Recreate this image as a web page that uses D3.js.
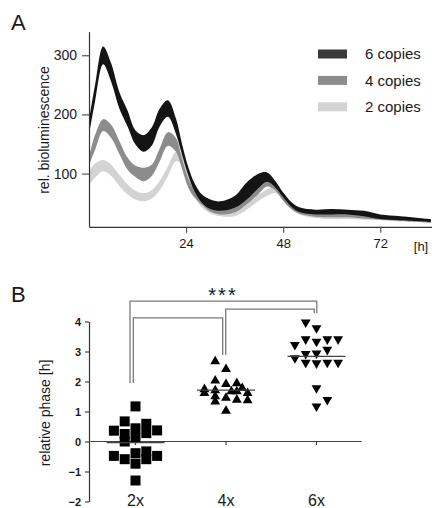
<!DOCTYPE html>
<html><head><meta charset="utf-8">
<script src="https://cdn.jsdelivr.net/npm/d3@7"></script>
<style>body{margin:0;background:#fff;} text{font-family:"Liberation Sans",Arial,sans-serif;fill:#1a1a1a;}</style>
</head><body><svg id="c" width="432" height="508"></svg>
<script>
// ---------- Panel A data ----------
const timeH = [0,1.5,3.5,5.5,7.5,9.5,11.5,13.5,15.5,17.5,19.5,21.5,23,24.5,26,28,30,32.5,36,39,42,44,46,48,50,52,56,60,64,68,72,77,84.5];
const upper6 = [190,250,315,286,238,207,173,165,178,210,224,193,150,112,85,64,56,53,62,85,100,102,88,68,52,43,39,40,39,37,31,28,23];
const lower6 = [165,222,285,255,210,180,149,137,147,180,196,167,132,98,71,50,40,37,42,56,76,86,77,60,44,35,31,31,31,28,23,21,18];
const upper4 = [128,165,192,182,155,127,113,110,115,143,170,160,125,92,72,58,47,42,45,62,83,92,85,66,50,40,35,34,34,32,29,27,22];
const lower4 = [114,140,172,160,133,107,94,87,96,121,147,137,108,77,60,47,36,31,34,48,66,78,72,54,40,32,27,26,26,24,22,20,17];
const upper2 = [104,117,123,115,98,82,71,67,72,88,112,137,133,105,78,55,44,37,39,50,65,73,79,68,52,40,33,31,31,30,28,26,22];
const lower2 = [81,93,104,96,79,65,56,53,58,72,96,121,114,87,62,42,33,28,28,39,54,62,67,57,40,31,25,23,23,22,21,19,17];
const seriesNames = ["6 copies","4 copies","2 copies"];
const xTicksA = [24,48,72];
const yTicksA = [100,200,300];

// ---------- Panel B data ----------
const groups = ["2x","4x","6x"];
const phase2x = [1.17,0.67,0.36,0.25,0.0,0.44,0.59,0.28,0.37,0.12,-0.48,-0.59,-0.39,-0.74,-0.33,-0.59,-0.48,-1.3];
const slot2x  = [0,-1,-2,-1,-1,0,1,1,2,0,-2,-1,0,0,1,1,2,0];
const phase4x = [2.67,2.41,2.03,1.91,1.94,1.74,1.61,1.70,1.50,1.33,1.45,1.67,1.67,1.39,1.78,1.61,1.37,1.02];
const slot4x  = [-1,0,-1,0,1,-2,-2,-1,-1,-1,0,0.5,1,1,1.5,2,2,0];
const phase6x = [3.97,3.78,3.41,3.33,3.41,3.41,3.22,2.92,2.94,3.06,2.78,2.63,2.61,2.63,2.63,1.78,1.17,1.39];
const slot6x  = [-1,0,-1,0,1,2,-2,-1,0,1,-2,-1,0,1,2,0,0,1];
const yTicksB = [-2,-1,0,1,2,3,4];

const svg = d3.select("#c");

// ================= Panel A =================
const xA = d3.scaleLinear().domain([0,84.8]).range([89,432]);
const yA = d3.scaleLinear().domain([10,340]).range([226.8,31.6]);
const colorsA = ["#141414","#8c8c8c","#d3d3d3"];
const legendColors = ["#3a3a3a","#8c8c8c","#d3d3d3"];
const bands = [
  {name:seriesNames[2], up:upper2, lo:lower2, c:colorsA[2]},
  {name:seriesNames[1], up:upper4, lo:lower4, c:colorsA[1]},
  {name:seriesNames[0], up:upper6, lo:lower6, c:colorsA[0]}
];
const area = d3.area().curve(d3.curveCatmullRom.alpha(0.5))
  .x(d=>xA(d.t)).y0(d=>yA(d.lo)).y1(d=>yA(d.up));
const gA = svg.append("g");
bands.forEach(b=>{
  const pts = timeH.map((t,i)=>({t, up:b.up[i], lo:b.lo[i]}));
  gA.append("path").datum(pts).attr("d",area).attr("fill",b.c);
});

const axAx = gA.append("g").attr("transform","translate(0,226.8)")
  .call(d3.axisBottom(xA).tickValues(xTicksA).tickSize(6).tickSizeOuter(0));
const axAy = gA.append("g").attr("transform","translate(89,0)")
  .call(d3.axisLeft(yA).tickValues(yTicksA).tickSize(7).tickSizeOuter(0));
[axAx,axAy].forEach(a=>{
  a.select(".domain").attr("stroke","#333").attr("stroke-width",1.2);
  a.selectAll(".tick line").attr("stroke","#555").attr("stroke-width",1.2);
  a.selectAll("text").attr("font-size",14).attr("fill","#222").style("font-family","'Liberation Sans',Arial,sans-serif");
});
axAx.selectAll("text").attr("font-size",13).attr("dy","0.95em");
axAy.selectAll("text").attr("x",-12);

gA.append("text").attr("x",421).attr("y",251).attr("text-anchor","middle")
  .attr("font-size",13).text("[h]");
gA.append("text").attr("transform","translate(49,130) rotate(-90)")
  .attr("text-anchor","middle").attr("font-size",14).text("rel. bioluminescence");
gA.append("text").attr("x",11).attr("y",30).attr("font-size",22).text("A");

// legend
const lg = gA.append("g");
seriesNames.forEach((n,i)=>{
  const cy = 54 + i*26.4;
  lg.append("rect").attr("x",318).attr("y",cy-4.5).attr("width",29).attr("height",9).attr("fill",legendColors[i]);
  lg.append("text").attr("x",365).attr("y",cy+5.2).attr("font-size",15).text(n);
});

// ================= Panel B =================
const xB = d3.scalePoint().domain(groups).range([135.5,316.5]);
const yB = d3.scaleLinear().domain([-2,4]).range([501.5,321.5]);
const step = xB.step();
const slotW = 10.8;
const gB = svg.append("g");

// y axis
const axBy = gB.append("g").attr("transform","translate(89,0)")
  .call(d3.axisLeft(yB).tickValues(yTicksB).tickSize(4).tickSizeOuter(0).tickFormat(d3.format("d")));
axBy.select(".domain").attr("stroke","#333").attr("stroke-width",1.2);
axBy.selectAll(".tick line").attr("stroke","#444").attr("stroke-width",1.2);
axBy.selectAll("text").attr("font-size",11).attr("font-weight","bold").attr("fill","#222")
  .attr("x",-8).style("font-family","'Liberation Sans',Arial,sans-serif");

// x axis at y = 0
gB.append("line").attr("x1",xB(groups[0])-step/2).attr("x2",xB(groups[2])+step/2)
  .attr("y1",yB(0)).attr("y2",yB(0)).attr("stroke","#444").attr("stroke-width",1.2);
groups.forEach(g=>{
  gB.append("line").attr("x1",xB(g)).attr("x2",xB(g)).attr("y1",yB(0)).attr("y2",yB(0)+3.5)
    .attr("stroke","#444").attr("stroke-width",1.2);
  gB.append("text").attr("x",xB(g)).attr("y",506).attr("text-anchor","middle")
    .attr("font-size",16).text(g);
});

gB.append("text").attr("transform","translate(50,413) rotate(-90)")
  .attr("text-anchor","middle").attr("font-size",14).text("relative phase [h]");
gB.append("text").attr("x",11).attr("y",302).attr("font-size",22).text("B");

// points
const sets = [
  {g:"2x", v:phase2x, s:slot2x, sym:d3.symbolSquare, size:100, rot:0},
  {g:"4x", v:phase4x, s:slot4x, sym:d3.symbolTriangle, size:42, rot:0},
  {g:"6x", v:phase6x, s:slot6x, sym:d3.symbolTriangle, size:42, rot:180}
];
sets.forEach(st=>{
  const pts = st.v.map((v,i)=>({v, s:st.s[i]}));
  gB.selectAll(null).data(pts).enter().append("path")
    .attr("d", d3.symbol().type(st.sym).size(st.size))
    .attr("transform", d=>`translate(${xB(st.g)+d.s*slotW},${yB(d.v)}) rotate(${st.rot})`)
    .attr("fill","#000");
  const m = d3.mean(st.v);
  gB.append("line").attr("x1",xB(st.g)-29).attr("x2",xB(st.g)+29)
    .attr("y1",yB(m)).attr("y2",yB(m)).attr("stroke","#444").attr("stroke-width",1.4);
});

// significance brackets
const brk = [
  {a:"2x", b:"6x", dxa:-5.5, dxb:0.3, top:4.68, ea:1.95, eb:4.28},
  {a:"2x", b:"4x", dxa:-2.2, dxb:-3.3, top:4.12, ea:1.95, eb:2.88},
  {a:"4x", b:"6x", dxa:-0.3, dxb:-2.2, top:4.41, ea:2.88, eb:4.28}
];
brk.forEach(k=>{
  const xa = xB(k.a)+k.dxa, xb = xB(k.b)+k.dxb;
  gB.append("path").attr("d",`M${xa},${yB(k.ea)}V${yB(k.top)}H${xb}V${yB(k.eb)}`)
    .attr("fill","none").attr("stroke","#7a7a7a").attr("stroke-width",1.3);
});
gB.append("text").attr("x",223).attr("y",302).attr("text-anchor","middle")
  .attr("font-size",20).attr("letter-spacing",2).text("***");
</script></body></html>
